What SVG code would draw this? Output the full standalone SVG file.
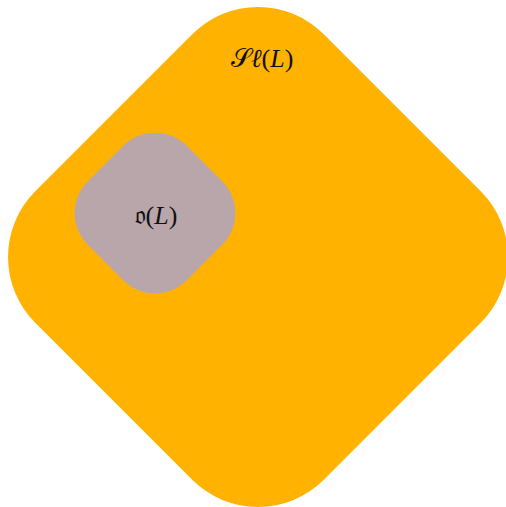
<svg xmlns="http://www.w3.org/2000/svg" width="506" height="507" viewBox="0 0 506 507">
  <style>
    .lbl { font-family: "Liberation Serif", "DejaVu Serif", "DejaVu Sans", serif; font-size: 26px; fill: #111; text-anchor: middle; }
    .it { font-style: italic; }
  </style>
  <rect width="506" height="507" fill="#ffffff"/>
  <g id="Sl">
    <rect x="54" y="53" width="408" height="408" rx="93" ry="93" fill="#FFB300" transform="rotate(45 258 257)"/>
    <text class="lbl" x="262" y="67">𝒮<tspan class="it">ℓ</tspan>(<tspan class="it">L</tspan>)</text>
  </g>
  <g id="o">
    <rect x="85" y="143" width="140" height="140" rx="45" ry="45" fill="#B9A6AA" transform="rotate(45 155 213)"/>
    <text class="lbl" x="156" y="224">𝔬(<tspan class="it">L</tspan>)</text>
  </g>
</svg>
